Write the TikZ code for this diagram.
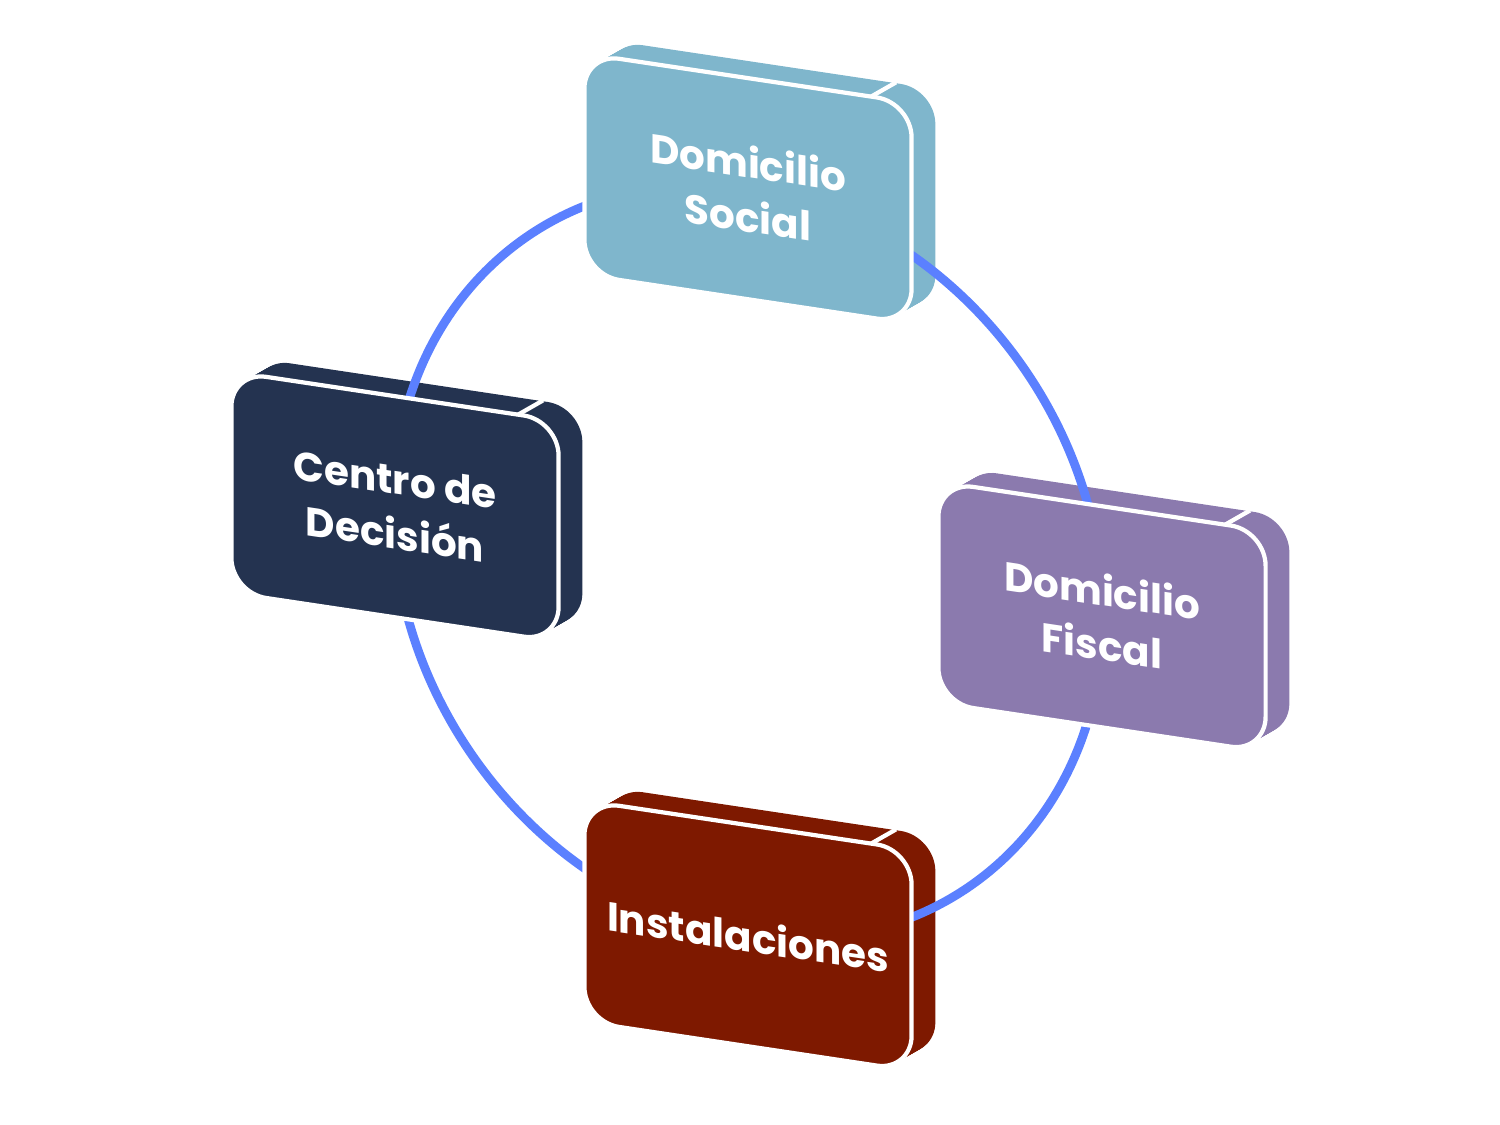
\documentclass[tikz,border=0pt]{standalone}
\usepackage{fontspec}
\setmainfont{Poppins}
\definecolor{cTop}{RGB}{127,182,204}
\definecolor{cLeft}{RGB}{36,51,80}
\definecolor{cRight}{RGB}{139,122,174}
\definecolor{cBot}{RGB}{126,25,0}
\definecolor{cArc}{RGB}{91,128,255}
\tikzset{
  boxshape/.style={rectangle, rounded corners=0.35cm, minimum width=3.27cm,
    minimum height=2.21cm, inner sep=0pt, transform shape},
  face/.style={boxshape, draw=white, line width=1.2pt, align=center, text=white,
    font=\fontsize{11.5}{15.5}\selectfont\bfseries},
  depthbox/.style={boxshape, fill=#1},
  edgeline/.style={white, line width=1.2pt},
  ring/.style={cArc, line width=2.5pt}
}
\begin{document}
\begin{tikzpicture}[x=0.01cm,y=-0.01cm]
\useasboundingbox (0,0) rectangle (1500,1125);
\begin{scope}[shift={(750,0)}, yslant=-0.15]
  \foreach \n/\cx/\cy/\col in {top/-2/189/cTop, left/-355/560/cLeft, right/352/564/cRight, bot/-2/936/cBot}{
    \foreach \t in {0,0.05,...,1.0}{
      \node[depthbox=\col] at (\cx+25*\t, \cy-18*\t) {};
    }
    \draw[edgeline] (\cx+123, \cy-110.5) -- ++(25,-18);
  }
  \coordinate (center) at (-2,562);
  \draw[ring] (center) ellipse [x radius=355, y radius=373];
  \node[face, fill=cTop]   (social)  at (-2,189)   {Domicilio\\Social};
  \node[face, fill=cLeft]  (centro)  at (-355,560) {Centro de\\Decisión};
  \node[face, fill=cRight] (fiscal)  at (352,564)  {Domicilio\\Fiscal};
  \node[face, fill=cBot]   (instal)  at (-2,936)   {Instalaciones};
\end{scope}
\end{tikzpicture}
\end{document}
